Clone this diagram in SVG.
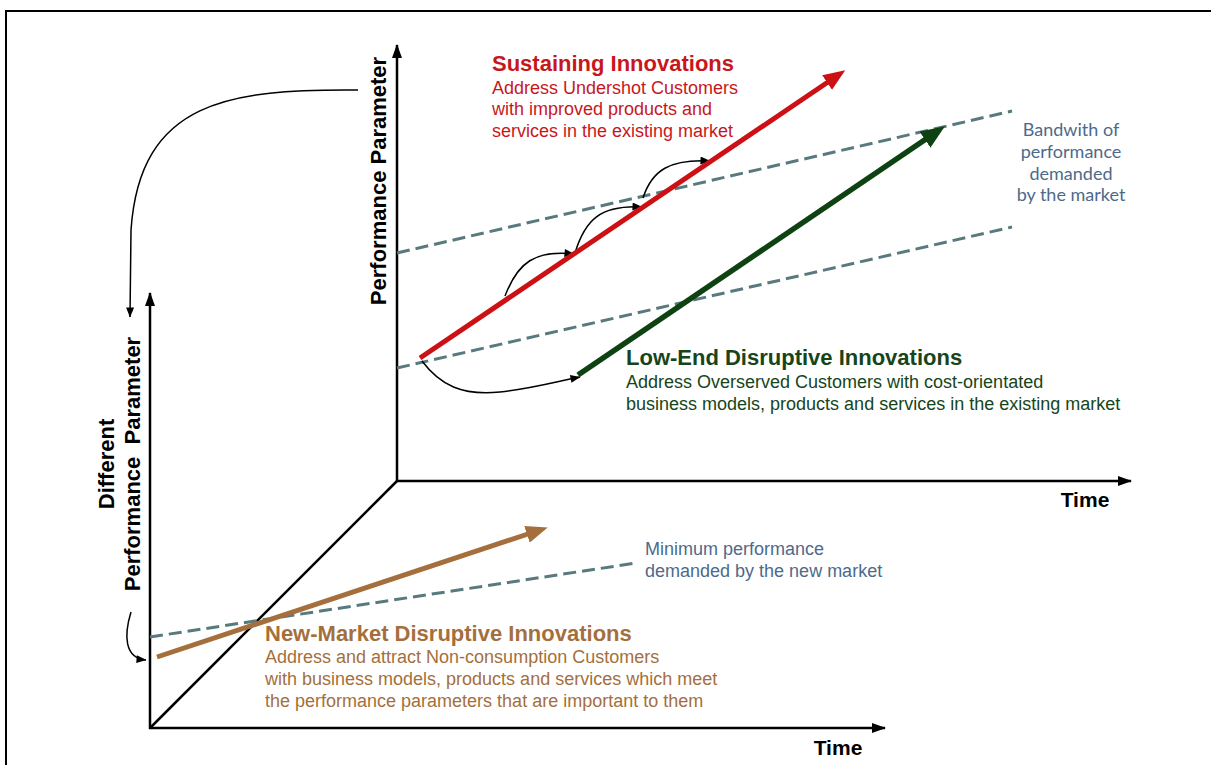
<svg xmlns="http://www.w3.org/2000/svg" width="1211" height="765" viewBox="0 0 1211 765">
  <style>
    text { font-family: "Liberation Sans", Arial, sans-serif; }
    .axis { stroke: #000; stroke-width: 2.5; fill: none; }
    .thin { stroke: #000; stroke-width: 1.5; fill: none; }
    .dash { stroke: #587a7e; stroke-width: 3; stroke-dasharray: 13 6; fill: none; }
    .title { font-weight: bold; font-size: 22px; }
    .body { font-size: 18px; }
    .axlabel { font-weight: bold; font-size: 22px; fill: #000; }
    .time { font-weight: bold; font-size: 21px; fill: #000; }
    .red { fill: #c8171c; }
    .green { fill: #17451a; }
    .brown { fill: #a46f3c; }
    .note { fill: #4d6a8a; font-size: 18px; }
    .band { font-family: Lato, "Liberation Sans", sans-serif; font-size: 18px; }
  </style>
  <defs>
    <marker id="axisHead" viewBox="0 0 14 10" markerWidth="14" markerHeight="10" refX="13" refY="5" orient="auto" markerUnits="userSpaceOnUse">
      <path d="M0,0 L14,5 L0,10 z" fill="#000"/>
    </marker>
    <marker id="smallHead" viewBox="0 0 10 8" markerWidth="11" markerHeight="8" refX="9.5" refY="4" orient="auto" markerUnits="userSpaceOnUse">
      <path d="M0,0 L10,4 L0,8 z" fill="#000"/>
    </marker>
    <marker id="headRed" viewBox="0 0 10 8" markerWidth="4.4" markerHeight="3.5" refX="0.5" refY="4" orient="auto">
      <path d="M0,0 L10,4 L0,8 z" fill="#cc1014"/>
    </marker>
    <marker id="headGreen" viewBox="0 0 10 8" markerWidth="4.4" markerHeight="3.5" refX="0.5" refY="4" orient="auto">
      <path d="M0,0 L10,4 L0,8 z" fill="#0f4212"/>
    </marker>
    <marker id="headBrown" viewBox="0 0 10 8" markerWidth="4.4" markerHeight="3.5" refX="0.5" refY="4" orient="auto">
      <path d="M0,0 L10,4 L0,8 z" fill="#a46f3c"/>
    </marker>
  </defs>

  <rect width="1211" height="765" fill="#fff"/>
  <!-- outer frame (open to the right and bottom) -->
  <path d="M6,765 L6,11 L1211,11" stroke="#000" stroke-width="2" fill="none"/>

  <!-- axes -->
  <g id="axes">
    <line class="axis" x1="397" y1="482" x2="397" y2="45" marker-end="url(#axisHead)"/>
    <line class="axis" x1="396" y1="481" x2="1131" y2="481" marker-end="url(#axisHead)"/>
    <line class="axis" x1="397" y1="481" x2="150" y2="728"/>
    <line class="axis" x1="150" y1="729" x2="150" y2="293" marker-end="url(#axisHead)"/>
    <line class="axis" x1="149" y1="728" x2="885" y2="728" marker-end="url(#axisHead)"/>
  </g>

  <g id="axis-labels">
    <text class="axlabel" transform="translate(386,181) rotate(-90)" text-anchor="middle">Performance Parameter</text>
    <text class="axlabel" transform="translate(114,464) rotate(-90)" text-anchor="middle">Different</text>
    <text class="axlabel" transform="translate(140,464) rotate(-90)" text-anchor="middle" xml:space="preserve">Performance  Parameter</text>
    <text class="time" x="1085" y="507" text-anchor="middle">Time</text>
    <text class="time" x="838" y="755" text-anchor="middle">Time</text>
  </g>

  <!-- performance bands -->
  <g id="bands">
    <line class="dash" x1="397" y1="253" x2="1012" y2="111"/>
    <line class="dash" x1="397" y1="368" x2="1012" y2="227"/>
    <line class="dash" x1="150" y1="637" x2="636" y2="563"/>
  </g>

  <g id="connectors">
    <path class="thin" d="M358,90 C230,89 140,100 131,230 L130,317" marker-end="url(#smallHead)"/>
    <path class="thin" d="M131,612 C124,635 124,658 146,660" marker-end="url(#smallHead)"/>
    <path class="thin" d="M505,296 C518,262 535,250 574,254" marker-end="url(#smallHead)"/>
    <path class="thin" d="M575,253 C585,220 600,205 642,207" marker-end="url(#smallHead)"/>
    <path class="thin" d="M643,198 C652,170 670,159 710,161" marker-end="url(#smallHead)"/>
    <path class="thin" d="M422,361 C440,385 462,396 500,392 C530,389 555,382 580,377" marker-end="url(#smallHead)"/>
  </g>

  <g id="sustaining">
    <line x1="420" y1="358" x2="828" y2="82" stroke="#cc1014" stroke-width="5" marker-end="url(#headRed)"/>
    <text class="title red" x="492" y="71">Sustaining Innovations</text>
    <text class="body red" x="492" y="94">Address Undershot Customers</text>
    <text class="body red" x="492" y="115">with improved products and</text>
    <text class="body red" x="492" y="137">services in the existing market</text>
  </g>

  <g id="low-end">
    <line x1="578" y1="375" x2="926" y2="139" stroke="#0f4212" stroke-width="5.5" marker-end="url(#headGreen)"/>
    <text class="title green" x="626" y="365">Low-End Disruptive Innovations</text>
    <text class="body green" x="626" y="388">Address Overserved Customers with cost-orientated</text>
    <text class="body green" x="626" y="410">business models, products and services in the existing market</text>
  </g>

  <g id="new-market">
    <line x1="157" y1="657" x2="528" y2="534" stroke="#a46f3c" stroke-width="5" marker-end="url(#headBrown)"/>
    <text class="title brown" x="265" y="641">New-Market Disruptive Innovations</text>
    <text class="body brown" x="265" y="663">Address and attract Non-consumption Customers</text>
    <text class="body brown" x="265" y="685">with business models, products and services which meet</text>
    <text class="body brown" x="265" y="707">the performance parameters that are important to them</text>
  </g>

  <g id="band-notes">
    <text class="note" x="645" y="555">Minimum performance</text>
    <text class="note" x="645" y="577">demanded by the new market</text>
    <text class="note band" x="1071" y="136" text-anchor="middle">Bandwith of</text>
    <text class="note band" x="1071" y="158" text-anchor="middle">performance</text>
    <text class="note band" x="1071" y="180" text-anchor="middle">demanded</text>
    <text class="note band" x="1071" y="201" text-anchor="middle">by the market</text>
  </g>
</svg>
